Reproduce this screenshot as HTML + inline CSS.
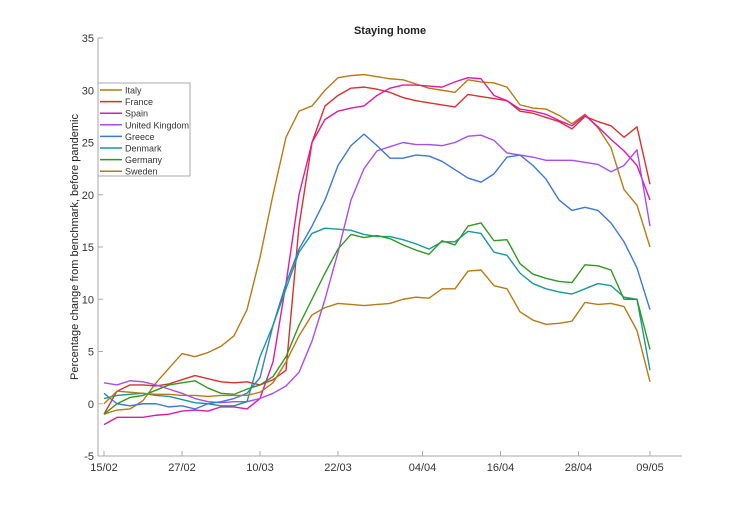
<!DOCTYPE html>
<html><head><meta charset="utf-8"><style>
body{margin:0;background:#fff;}
svg{display:block;font-family:"Liberation Sans",sans-serif;}
</style></head><body>
<svg id="chart" width="754" height="512">
<text x="390" y="34" text-anchor="middle" font-size="11" font-weight="bold" fill="#222">Staying home</text>
<text transform="translate(78,247) rotate(-90)" text-anchor="middle" font-size="11" fill="#222">Percentage change from benchmark, before pandemic</text>
<g id="axes"></g><g id="lines"></g><g id="legend"></g>
</svg>
<script>
const dayIdx=[0,2,4,6,8,10,12,14,16,18,20,22,24,26,28,30,32,34,36,38,40,42,44,46,48,50,52,54,56,58,60,62,64,66,68,70,72,74,76,78,80,82,84];
const xTickDays=[0,12,24,36,49,61,73,84];
const xTickLabels=["15/02","27/02","10/03","22/03","04/04","16/04","28/04","09/05"];
const yTicks=[-5,0,5,10,15,20,25,30,35];
const names=["Italy","France","Spain","United Kingdom","Greece","Denmark","Germany","Sweden"];
const colors=["#b97a12","#dc2f2f","#e01aa3","#a84cf5","#3b78dc","#17999a","#2e9a1e","#b97a12"];
const italy=[-1,-0.6,-0.5,0.3,2,3.4,4.8,4.5,4.9,5.5,6.5,9,14,20,25.5,28,28.5,30,31.2,31.4,31.5,31.3,31.1,31.0,30.6,30.2,30.0,29.8,31.0,30.8,30.7,30.3,28.6,28.3,28.2,27.6,26.8,27.7,26.4,24.5,20.5,19,15];
const france=[-1,1.2,1.8,1.8,1.7,1.9,2.3,2.7,2.4,2.1,2.0,2.1,1.8,2.3,3.2,17,25,28.5,29.5,30.2,30.3,30.1,29.8,29.3,29.0,28.8,28.6,28.4,29.6,29.4,29.2,29.0,28.0,27.8,27.4,27.0,26.3,27.5,27.0,26.6,25.5,26.5,21];
const spain=[-2,-1.3,-1.3,-1.3,-1.1,-1,-0.7,-0.6,-0.7,-0.3,-0.3,-0.5,0.5,4,11.5,20,25,27.2,28.0,28.3,28.5,29.5,30.2,30.5,30.5,30.4,30.3,30.8,31.2,31.1,29.5,29.0,28.2,28.0,27.7,27.1,26.6,27.6,26.5,25.3,24.2,22.8,19.5];
const uk=[2,1.8,2.2,2.1,1.8,1.4,1.0,0.5,0.2,0.1,0.2,0.2,0.5,1.0,1.7,3.0,6,10,14.5,19.5,22.5,24.2,24.6,25.0,24.8,24.8,24.7,25.0,25.6,25.7,25.2,24.0,23.8,23.6,23.3,23.3,23.3,23.1,22.9,22.2,22.8,24.3,17];
const greece=[1,0,-0.2,0,0,-0.3,-0.2,-0.5,0,0.2,0.5,1,2.5,7.5,11.5,14.8,17,19.5,22.8,24.7,25.8,24.7,23.5,23.5,23.8,23.7,23.2,22.4,21.6,21.2,22.0,23.6,23.8,22.8,21.5,19.5,18.5,18.8,18.5,17.3,15.5,13.0,9];
const denmark=[0.5,0.8,0.9,1.0,0.8,0.7,0.4,0.1,0,-0.2,-0.2,0.2,4.5,7.5,11,14.5,16.3,16.8,16.7,16.6,16.2,16.0,16.0,15.7,15.3,14.8,15.5,15.5,16.5,16.3,14.5,14.2,12.5,11.5,11.0,10.7,10.5,11.0,11.5,11.3,10.2,10.0,3.2];
const germany=[-1,0,0.6,0.8,1.3,1.8,2.0,2.2,1.5,1.0,0.9,1.4,1.8,2.6,4.5,7.5,10,12.5,14.8,16.2,15.9,16.1,15.8,15.2,14.7,14.3,15.6,15.2,17.0,17.3,15.6,15.7,13.4,12.4,12.0,11.7,11.6,13.3,13.2,12.8,10.0,10.0,5.2];
const sweden=[0,1.2,1.1,1.0,0.9,0.9,0.8,0.8,0.7,0.8,0.8,0.8,1.1,2.0,4.0,6.5,8.5,9.2,9.6,9.5,9.4,9.5,9.6,10,10.2,10.1,11,11,12.7,12.8,11.3,11,8.8,8,7.6,7.7,7.9,9.7,9.5,9.6,9.3,7.0,2.1];
const series=[italy,france,spain,uk,greece,denmark,germany,sweden];

const NS="http://www.w3.org/2000/svg";
const X0=98,X1=682,Y0=456,Y1=38;
const xs=d=>104+d*6.5;
const ys=v=>Y0-(v+5)*(Y0-Y1)/40;
function mk(tag,attrs,parent){const e=document.createElementNS(NS,tag);for(const k in attrs)e.setAttribute(k,attrs[k]);parent.appendChild(e);return e;}
const ax=document.getElementById('axes');
let l=mk('line',{x1:X0,y1:Y1,x2:X0,y2:Y0,stroke:'#aaa'},ax);


l=mk('line',{x1:X0,y1:Y0,x2:X1,y2:Y0,stroke:'#aaa'},ax);


yTicks.forEach(v=>{
  mk('line',{x1:X0,y1:ys(v),x2:X0+5,y2:ys(v),stroke:'#aaa'},ax);
  const t=mk('text',{x:X0-4,y:ys(v)+4,'text-anchor':'end','font-size':'11',fill:'#333'},ax);
  t.textContent=v;
  
  
});
xTickDays.forEach((d,i)=>{
  mk('line',{x1:xs(d),y1:Y0,x2:xs(d),y2:Y0-5,stroke:'#aaa'},ax);
  const t=mk('text',{x:xs(d),y:Y0+15,'text-anchor':'middle','font-size':'11',fill:'#333'},ax);
  t.textContent=xTickLabels[i];
  
  
});
const lg=document.getElementById('lines');
series.forEach((s,i)=>{
  const p=mk('polyline',{points:s.map((v,j)=>xs(dayIdx[j])+','+ys(v)).join(' '),fill:'none',stroke:colors[i],'stroke-width':'1.4','stroke-linejoin':'round'},lg);
  
  
});
const leg=document.getElementById('legend');
const box=mk('rect',{x:98,y:83,width:92,height:93,fill:'#fff',stroke:'#aaa'},leg);


names.forEach((n,i)=>{
  const y=90+i*11.6;
  mk('line',{x1:100,y1:y,x2:122,y2:y,stroke:colors[i],'stroke-width':'1.5'},leg);
  const t=mk('text',{x:125,y:y+3.5,'font-size':'9',fill:'#333'},leg);
  t.textContent=n;
  
  
});
</script>
</body></html>
